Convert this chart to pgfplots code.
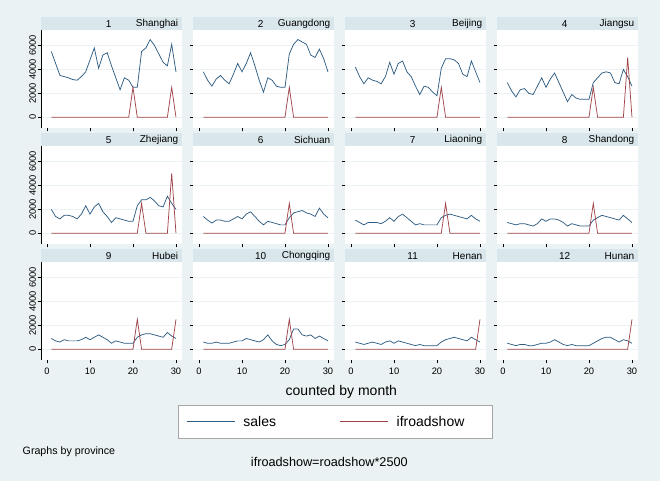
\documentclass[border=0pt]{standalone}
\usepackage{pgfplots}
\pgfplotsset{compat=1.18}
\usepgfplotslibrary{groupplots}
\usetikzlibrary{calc,backgrounds}
\usepackage{fontspec}
\setmainfont{Liberation Sans}
\definecolor{bg}{HTML}{EAF2F3}
\definecolor{strip}{HTML}{D9E6EB}
\definecolor{sales}{HTML}{2E5C82}
\definecolor{rs}{HTML}{A04349}
\newcommand{\panel}[4]{%
\nextgroupplot
\fill[strip] (rel axis cs:0,1) rectangle (rel axis cs:1,1.13);
\node[font=\fontsize{7.5}{8}\selectfont,inner sep=0] at (rel axis cs:0.48,1.065) {#1};
\node[font=\fontsize{7.5}{8}\selectfont,inner sep=0,anchor=east] at (rel axis cs:0.975,1.058) {#2};
\addplot[sales] table[header=false,row sep=\\,x expr=\coordindex+1,y index=0] {#3};
\addplot[rs] coordinates {#4};
}
\begin{document}
\begin{tikzpicture}
\begin{groupplot}[
  group style={group size=4 by 3, horizontal sep=8.25pt, vertical sep=13.5pt,
    xticklabels at=edge bottom, yticklabels at=edge left, group name=group},
  width=105.75pt, height=73.5pt, scale only axis,
  xmin=-1.4, xmax=31.4, ymin=-900, ymax=7300,
  xtick={0,10,20,30}, ytick={0,2000,4000,6000},
  axis line style={draw=none}, axis background/.style={fill=white},
  ymajorgrids, grid style={bg, line width=0.6pt},
  tick align=outside, xtick pos=bottom, ytick pos=left,
  tick style={black, line width=0.4pt}, major tick length=2.5pt,
  ticklabel style={font=\fontsize{7}{8}\selectfont},
  /pgf/number format/assume math mode=true,
  /pgf/number format/set thousands separator={},
  scaled ticks=false,
  yticklabel style={rotate=90, anchor=south, inner sep=1pt},
  clip=false,
  every axis plot/.append style={line width=0.55pt, no marks},
]
\panel{1}{Shanghai}{5500\\4500\\3500\\3400\\3300\\3150\\3100\\3400\\3800\\4800\\5800\\4100\\5200\\5400\\4300\\3300\\2300\\3300\\3100\\2500\\2500\\5500\\5800\\6500\\6000\\5300\\4600\\4300\\6100\\3800\\}{(1,0)(19,0)(20,2500)(21,0)(28,0)(29,2500)(30,0)}
\draw[black,line width=0.4pt] (rel axis cs:0,0)--(rel axis cs:0,1);
\panel{2}{Guangdong}{3800\\3100\\2600\\3200\\3500\\3100\\2800\\3600\\4500\\3800\\4500\\5400\\4300\\3100\\2100\\3300\\3100\\2600\\2500\\2500\\5300\\6100\\6500\\6300\\6100\\5200\\5000\\5700\\4900\\3800\\}{(1,0)(20,0)(21,2500)(22,0)(30,0)}
\panel{3}{Beijing}{4200\\3400\\2800\\3300\\3100\\3000\\2800\\3400\\4600\\3600\\4500\\4700\\3800\\3400\\2600\\1900\\2600\\2500\\2100\\1800\\4100\\4900\\4900\\4800\\4500\\3600\\3400\\4700\\3800\\2900\\}{(1,0)(20,0)(21,2500)(22,0)(30,0)}
\panel{4}{Jiangsu}{2900\\2200\\1700\\2300\\2400\\2000\\1900\\2600\\3300\\2500\\3200\\3700\\2900\\2100\\1300\\1900\\1600\\1500\\1500\\1500\\2900\\3300\\3700\\3800\\3700\\2900\\2800\\4000\\3400\\2600\\}{(1,0)(20,0)(21,2500)(22,0)(28,0)(29,5000)(30,0)}
\panel{5}{Zhejiang}{2000\\1400\\1200\\1500\\1500\\1400\\1200\\1600\\2300\\1600\\2200\\2500\\1800\\1400\\900\\1300\\1200\\1100\\1000\\1000\\2300\\2800\\2800\\3000\\2700\\2300\\2200\\3100\\2500\\2000\\}{(1,0)(21,0)(22,2500)(23,0)(28,0)(29,5000)(30,0)}
\draw[black,line width=0.4pt] (rel axis cs:0,0)--(rel axis cs:0,1);
\panel{6}{Sichuan}{1400\\1100\\850\\1100\\1100\\1000\\1000\\1200\\1400\\1200\\1600\\1800\\1400\\1000\\700\\1000\\900\\800\\700\\700\\1300\\1700\\1800\\1900\\1700\\1600\\1400\\2100\\1600\\1300\\}{(1,0)(20,0)(21,2500)(22,0)(30,0)}
\panel{7}{Liaoning}{1100\\900\\700\\900\\900\\900\\800\\1000\\1300\\1000\\1400\\1600\\1300\\1000\\700\\800\\700\\700\\700\\700\\1300\\1500\\1600\\1500\\1400\\1300\\1200\\1500\\1200\\1000\\}{(1,0)(21,0)(22,2500)(23,0)(30,0)}
\panel{8}{Shandong}{900\\800\\700\\800\\800\\700\\600\\800\\1200\\1000\\1200\\1200\\1100\\900\\600\\800\\700\\600\\600\\600\\1100\\1300\\1500\\1400\\1300\\1200\\1100\\1500\\1200\\900\\}{(1,0)(20,0)(21,2500)(22,0)(30,0)}
\panel{9}{Hubei}{900\\700\\600\\800\\700\\700\\700\\800\\1000\\800\\1000\\1200\\1000\\800\\500\\700\\600\\500\\500\\500\\1000\\1200\\1300\\1300\\1200\\1100\\1000\\1400\\1100\\900\\}{(1,0)(20,0)(21,2500)(22,0)(29,0)(30,2500)}
\draw[black,line width=0.4pt] (rel axis cs:0,0)--(rel axis cs:0,1);
\panel{10}{Chongqing}{600\\500\\500\\600\\500\\500\\500\\600\\700\\700\\900\\800\\700\\600\\800\\1200\\700\\400\\300\\400\\800\\1700\\1700\\1200\\1100\\1200\\900\\1100\\900\\700\\}{(1,0)(20,0)(21,2500)(22,0)(30,0)}
\panel{11}{Henan}{600\\500\\400\\500\\600\\500\\400\\600\\700\\500\\700\\600\\500\\400\\300\\400\\300\\300\\300\\300\\600\\800\\900\\1000\\900\\800\\700\\1000\\800\\600\\}{(1,0)(29,0)(30,2500)}
\panel{12}{Hunan}{500\\400\\300\\400\\400\\300\\300\\400\\500\\500\\600\\800\\600\\400\\300\\400\\300\\300\\300\\300\\500\\700\\900\\1000\\1000\\800\\600\\800\\700\\500\\}{(1,0)(29,0)(30,2500)}
\end{groupplot}
\coordinate (O) at ($(group c1r1.north west)+(-30.75pt,22.5pt)$);
\begin{scope}[on background layer]
\fill[bg] (O) rectangle ++(495pt,-360.75pt);
\end{scope}
\node[font=\fontsize{10.5}{12}\selectfont] at ($(O)+(256pt,-294pt)$) {counted by month};
\draw[gray!70,fill=white] ($(O)+(133.5pt,-303.75pt)$) rectangle ($(O)+(369pt,-328.5pt)$);
\draw[sales,line width=0.6pt] ($(O)+(140pt,-316pt)$) -- ++(36pt,0);
\node[font=\fontsize{10.5}{12}\selectfont,anchor=west] at ($(O)+(179pt,-316pt)$) {sales};
\draw[rs,line width=0.6pt] ($(O)+(255pt,-316pt)$) -- ++(36pt,0);
\node[font=\fontsize{10.5}{12}\selectfont,anchor=west] at ($(O)+(294pt,-316pt)$) {ifroadshow};
\node[font=\fontsize{8}{9}\selectfont,anchor=west] at ($(O)+(13.5pt,-339pt)$) {Graphs by province};
\node[font=\fontsize{9.5}{11}\selectfont] at ($(O)+(247pt,-346.5pt)$) {ifroadshow=roadshow*2500};
\end{tikzpicture}
\end{document}
